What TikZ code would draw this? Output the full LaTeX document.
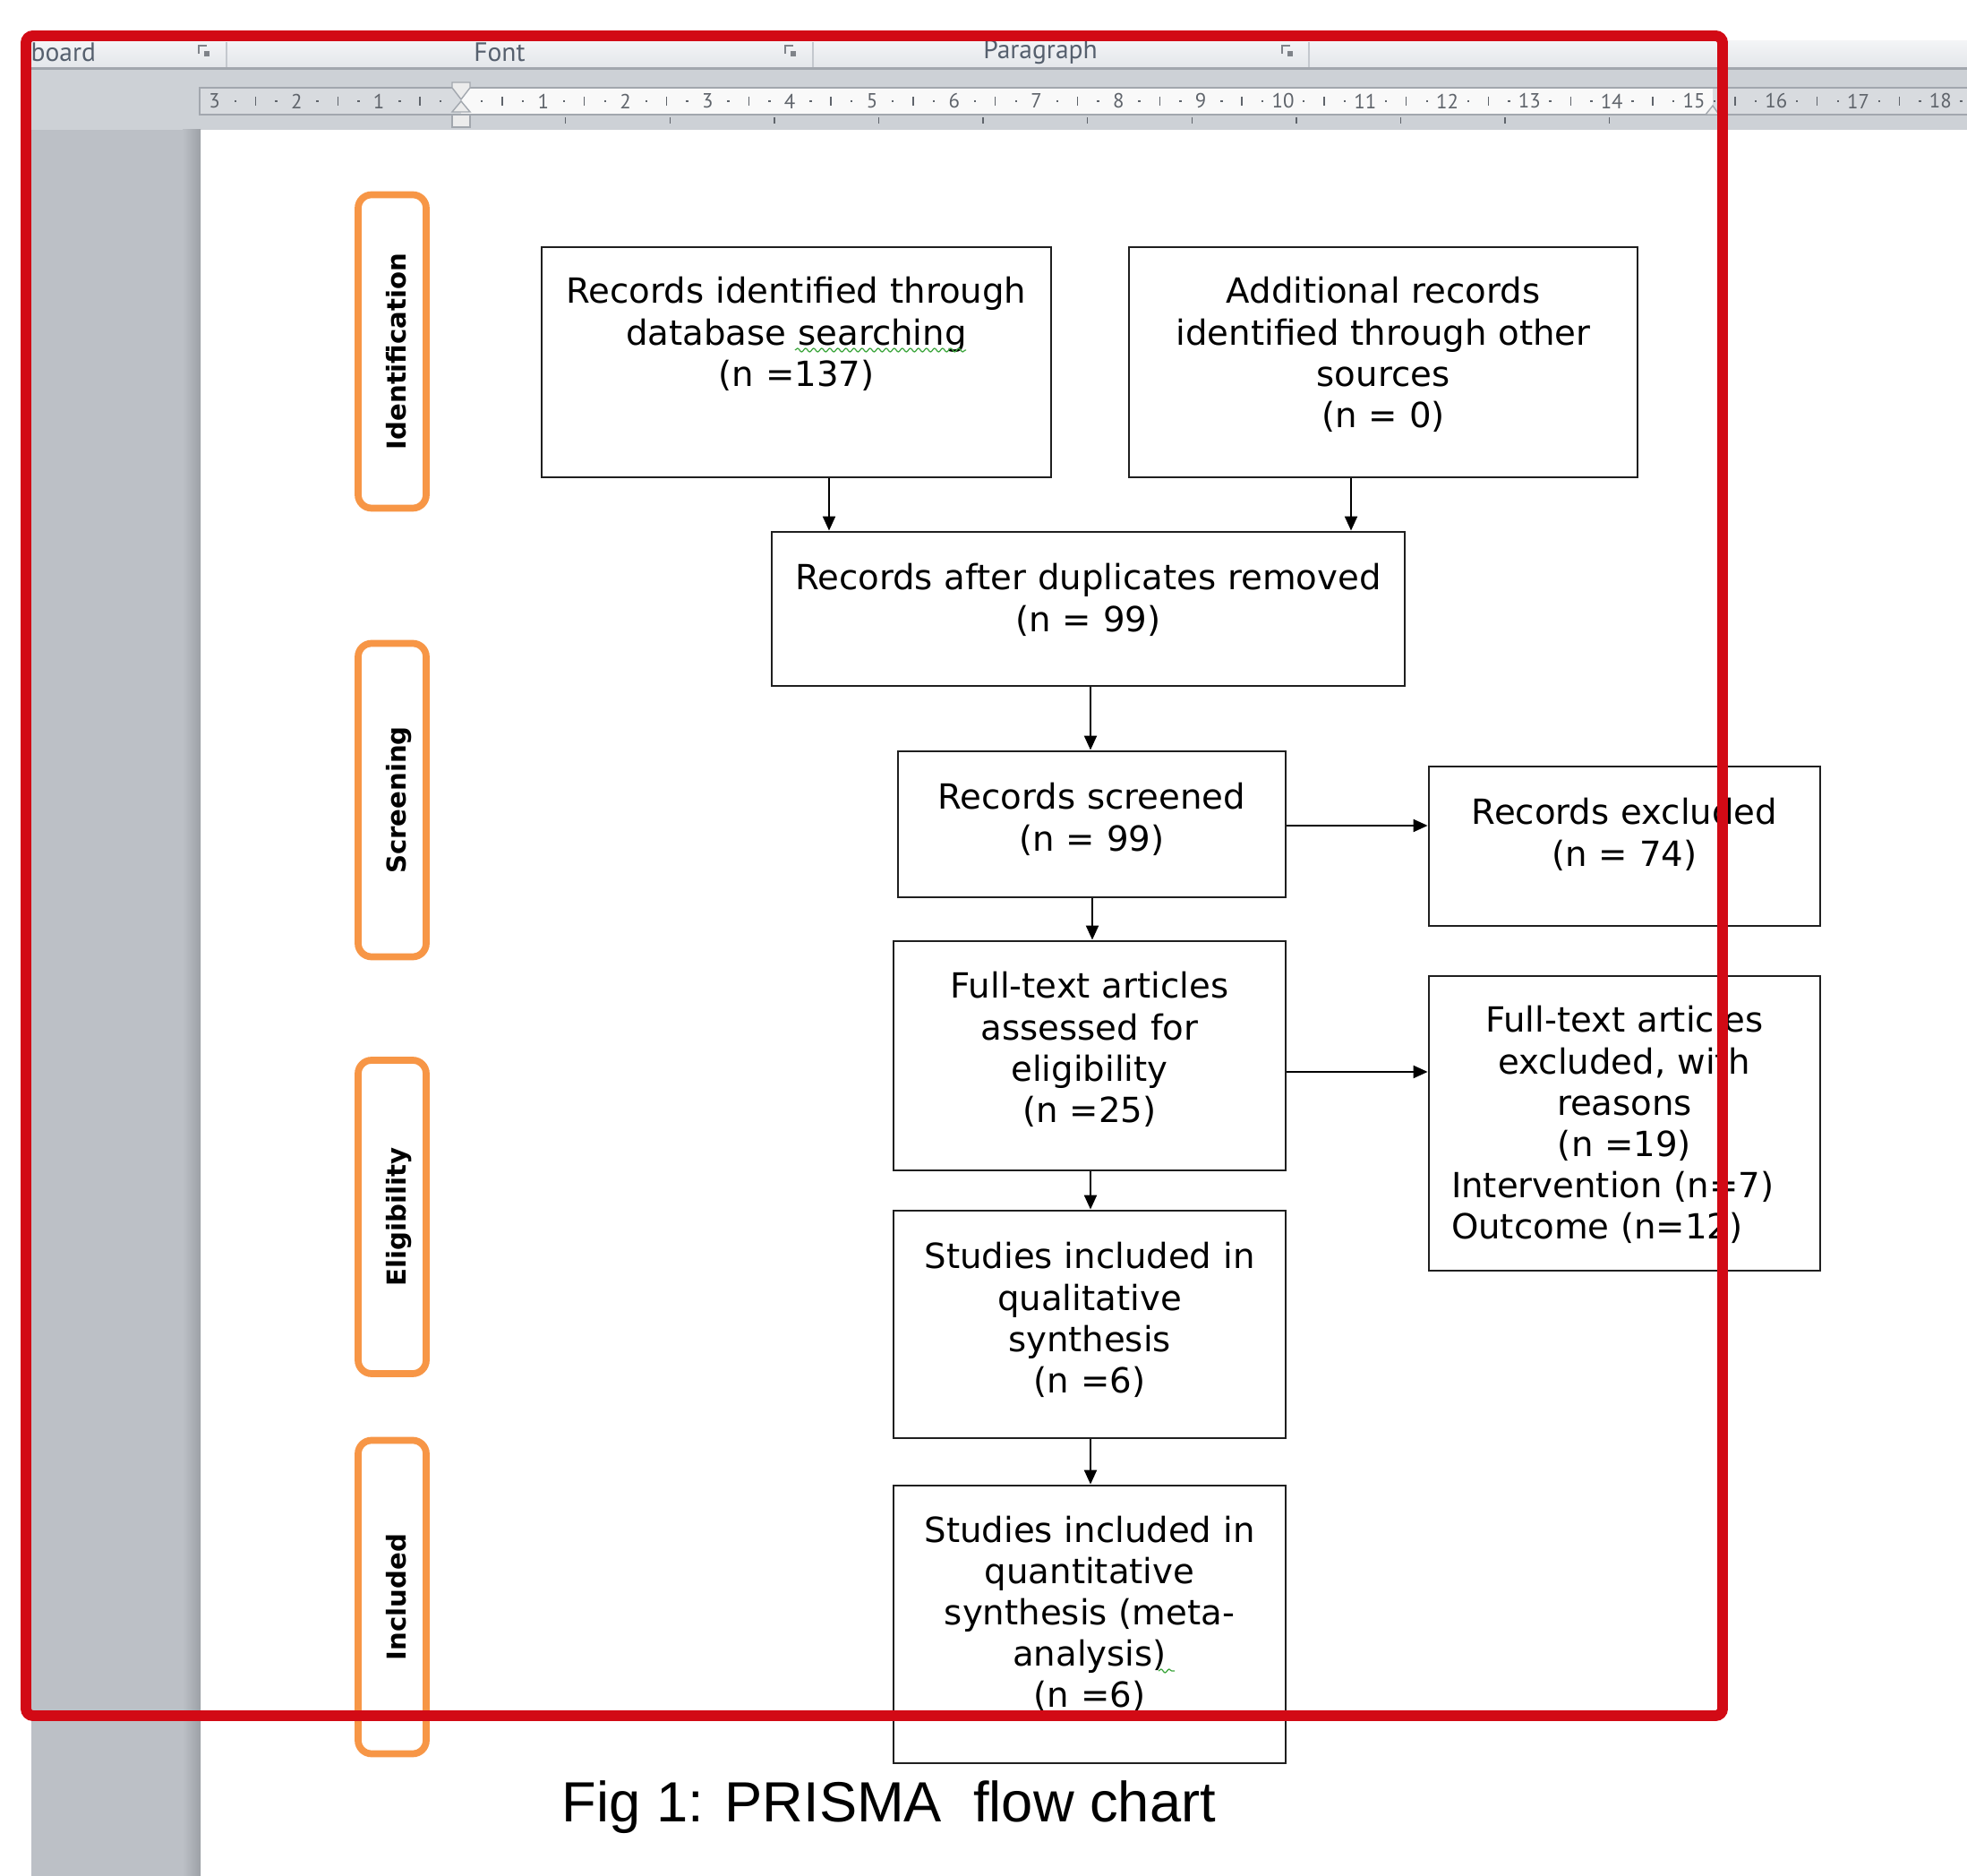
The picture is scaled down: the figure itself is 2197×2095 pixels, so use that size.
\documentclass[tikz,border=0pt]{standalone}
\usepackage{fontspec}
\setmainfont{DejaVu Sans}
\newfontfamily\capfont{Liberation Sans}
\newfontfamily\uifont{PT Sans}
\usetikzlibrary{arrows.meta,decorations.pathmorphing}

\definecolor{ribbontop}{HTML}{F3F4F6}
\definecolor{ribbonbot}{HTML}{E3E6EA}
\definecolor{ribbonsep}{HTML}{C4C8CE}
\definecolor{uigray}{HTML}{CDD1D6}
\definecolor{uiline}{HTML}{A2A7AE}
\definecolor{stripgray}{HTML}{BCC0C6}
\definecolor{stripedge}{HTML}{9CA0A6}
\definecolor{rulermargin}{HTML}{D8DBDF}
\definecolor{rulerpaper}{HTML}{F9F9F9}
\definecolor{rulerink}{HTML}{5F646B}
\definecolor{markerfill}{HTML}{ECECEC}
\definecolor{uitext}{HTML}{56606E}
\definecolor{phase}{HTML}{F79646}
\definecolor{frame}{HTML}{D20A15}
\definecolor{spell}{HTML}{3DA63D}

\tikzset{
  flowbox/.style={draw=black!88, line width=0.8pt, inner sep=0pt},
  flowtext/.style={inner sep=0pt, align=center, anchor=base,
      font=\fontsize{11pt}{13.1pt}\selectfont},
  phasebox/.style={draw=phase, line width=2.2pt, rounded corners=1.5mm, fill=white,
      minimum width=7.6mm, minimum height=35mm, inner sep=0pt},
  phasetext/.style={rotate=90, anchor=base, inner sep=0pt,
      font=\fontsize{8.3pt}{10pt}\selectfont\bfseries},
  arr/.style={line width=0.6pt, -{Triangle[length=1.6mm,width=1.4mm]}},
  uilabel/.style={inner sep=0pt, text=uitext, font=\uifont\fontsize{8.4pt}{10pt}\selectfont},
  rulernum/.style={inner sep=0pt, text=rulerink, font=\uifont\fontsize{6.5pt}{7pt}\selectfont},
  marker/.style={fill=markerfill, draw=uiline, line width=0.4pt},
  wavy/.style={draw=spell, line width=0.35pt, decorate,
      decoration={snake, segment length=0.9mm, amplitude=0.2mm}},
}

\begin{document}
\begin{tikzpicture}[x=0.1mm,y=-0.1mm]
\useasboundingbox (0,0) rectangle (2197,2095);
\fill[white] (0,0) rectangle (2197,2095);

% ---- window chrome: ribbon group bar ----
\shade[top color=ribbontop,bottom color=ribbonbot] (23,46) rectangle (2197,76);
\fill[uiline] (23,75) rectangle (2197,78);
\fill[uigray] (23,78) rectangle (2197,145);
\foreach \x in {252,907,1461} \fill[ribbonsep] (\x,47) rectangle (\x+2,75);
\foreach \x in {228,883,1438} {
  \draw[rulerink!80, line width=0.3pt] (\x-6,60) -- (\x-6,51) -- (\x+3,51);
  \fill[rulerink!80] (\x,57) rectangle (\x+6,63);
}
\node[uilabel, anchor=west] (grpclip) at (34,58) {board};
\node[uilabel] (grpfont) at (558,58) {Font};
\node[uilabel] (grppara) at (1162,58) {Paragraph};

% ---- left margin strip of the workspace ----
\fill[stripgray] (35,145) rectangle (224,2095);
\shade[left color=stripgray,right color=stripedge] (204,145) rectangle (224,2095);

% ---- horizontal ruler ----
\fill[rulermargin] (223,98) rectangle (2197,128);
\fill[rulerpaper] (515,98) rectangle (1913,128);
\draw[uiline, line width=0.5pt] (2197,98) -- (223,98) -- (223,128) -- (2197,128);
\foreach \n in {1,2,3} \node[rulernum] (rl\n) at (515-91.8*\n,113) {\n};
\foreach \n in {1,...,18} \node[rulernum] (rr\n) at (515+91.8*\n,113) {\n};
\foreach \n in {-3,...,17} \draw[rulerink, line width=0.4pt] (515+91.8*\n+45.9,108) -- ++(0,10);
\foreach \n in {-3,...,18} {
  \fill[rulerink] (515+91.8*\n+21.9,112) rectangle ++(2.4,2.4);
  \fill[rulerink] (515+91.8*\n+67.8,112) rectangle ++(2.4,2.4);
}
\foreach \k in {1,...,11} \draw[rulerink, line width=0.4pt] (515+116.6*\k,131) -- ++(0,7);
% indent markers
\draw[marker] (505,92) -- (525,92) -- (525,98) -- (515,111) -- (505,98) -- cycle;
\draw[marker] (515,113) -- (525,125) -- (505,125) -- cycle;
\draw[marker] (505,128) rectangle (525,142);
\draw[marker] (1905,128) -- (1913,118) -- (1920,128) -- cycle;

% ---- phase labels ----
\node[phasebox] (p1) at (438,392.5) {};
\node[phasebox] (p2) at (438,893.5) {};
\node[phasebox] (p3) at (438,1359) {};
\node[phasebox] (p4) at (438,1783.5) {};
\node[phasetext] (p1t) at (453,392.5) {Identification};
\node[phasetext] (p2t) at (453,893.5) {Screening};
\node[phasetext] (p3t) at (453,1359) {Eligibility};
\node[phasetext] (p4t) at (453,1783.5) {Included};

% ---- flow boxes ----
\node[flowbox, minimum width=56.9mm, minimum height=25.7mm] (b1) at (889.5,404.5) {};
\node[flowbox, minimum width=56.8mm, minimum height=25.7mm] (b2) at (1545,404.5) {};
\node[flowbox, minimum width=70.7mm, minimum height=17.2mm] (b3) at (1215.5,680) {};
\node[flowbox, minimum width=43.3mm, minimum height=16.3mm] (b4) at (1219.5,920.5) {};
\node[flowbox, minimum width=43.7mm, minimum height=17.8mm] (b5) at (1814.5,945) {};
\node[flowbox, minimum width=43.8mm, minimum height=25.6mm] (b6) at (1217,1179) {};
\node[flowbox, minimum width=43.7mm, minimum height=32.9mm] (b7) at (1814.5,1254.5) {};
\node[flowbox, minimum width=43.8mm, minimum height=25.4mm] (b8) at (1217,1479) {};
\node[flowbox, minimum width=43.8mm, minimum height=31mm] (b9) at (1217,1814) {};

\node[flowtext, text width=54mm] (t1) at (889.5,339)
  {Records identified through\\database searching\\(n =137)};
\node[flowtext, text width=54mm] (t2) at (1545,339)
  {Additional records\\identified through other\\sources\\(n = 0)};
\node[flowtext, text width=68mm] (t3) at (1215.5,659)
  {Records after duplicates removed\\(n = 99)};
\node[flowtext, text width=41mm] (t4) at (1219.5,904)
  {Records screened\\(n = 99)};
\node[flowtext, text width=41mm] (t5) at (1814.5,921)
  {Records excluded\\(n = 74)};
\node[flowtext, text width=41mm] (t6) at (1217,1115)
  {Full-text articles\\assessed for\\eligibility\\(n =25)};
\node[flowtext, text width=38.7mm] (t7) at (1814.5,1153)
  {Full-text articles\\excluded, with\\reasons\\(n =19)\\
   \makebox[\linewidth][l]{Intervention (n=7)}\\
   \makebox[\linewidth][l]{Outcome (n=12)}};
\node[flowtext, text width=41mm] (t8) at (1217,1417)
  {Studies included in\\qualitative\\synthesis\\(n =6)};
\node[flowtext, text width=41mm] (t9) at (1217,1722)
  {Studies included in\\quantitative\\synthesis (meta-\\analysis)\\(n =6)};

% proofing marks
\draw[wavy] (888,391) -- (1079,391);
\draw[wavy] (1294,1866) -- (1312,1866);

% ---- connectors ----
\coordinate (cx1) at (926,0);
\coordinate (cx2) at (1509,0);
\coordinate (cx3) at (1218,0);
\coordinate (cx4) at (1220,0);
\coordinate (cy1) at (0,922);
\coordinate (cy2) at (0,1197);
\draw[arr] (b1.south -| cx1) -- (b3.north -| cx1);
\draw[arr] (b2.south -| cx2) -- (b3.north -| cx2);
\draw[arr] (b3.south -| cx3) -- (b4.north -| cx3);
\draw[arr] (b4.south -| cx4) -- (b6.north -| cx4);
\draw[arr] (b6.south -| cx3) -- (b8.north -| cx3);
\draw[arr] (b8.south -| cx3) -- (b9.north -| cx3);
\draw[arr] (b4.east |- cy1) -- (b5.west |- cy1);
\draw[arr] (b6.east |- cy2) -- (b7.west |- cy2);

% ---- caption ----
\node[inner sep=0pt, anchor=base, font=\capfont\fontsize{18pt}{21pt}\selectfont] (cap)
  at (993,2034) {Fig 1: PRISMA\ \ flow chart};

% ---- red highlight frame ----
\draw[frame, line width=3.4pt, rounded corners=0.8mm] (29,40) rectangle (1924,1916);
\end{tikzpicture}
\end{document}
